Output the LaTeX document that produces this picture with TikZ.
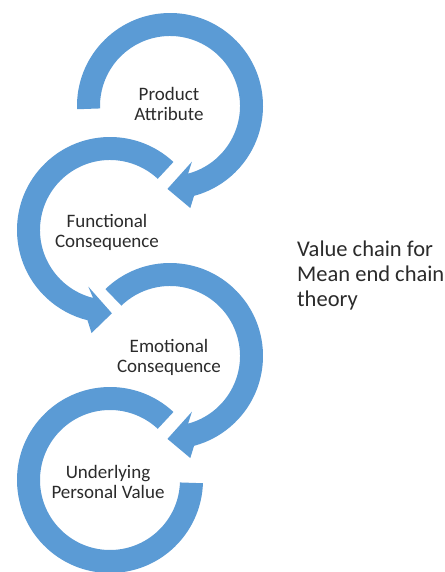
\documentclass[tikz,border=0pt]{standalone}
\usepackage{fontspec}
\setmainfont{Carlito}
\usetikzlibrary{calc}
\definecolor{ringblue}{HTML}{5B9BD5}
\definecolor{labelgray}{HTML}{2B2B2B}
\begin{document}
\begin{tikzpicture}[x=1pt,y=1pt,
  ring/.style={fill=ringblue,draw=none},
  stage/.style={align=center,inner sep=0pt,text=labelgray,font=\fontsize{19}{20}\selectfont},
  caption/.style={align=left,inner sep=0pt,text=labelgray,font=\fontsize{22.5}{25}\selectfont,anchor=west}]
\useasboundingbox (0,0) rectangle (444,-572);
\fill[white] (0,0) rectangle (444,-572);

% ring centres
\coordinate (c1) at (170,-106);
\coordinate (c2) at (110,-230);
\coordinate (c3) at (170,-356);
\coordinate (c4) at (110,-480);

% ring 1: clockwise, arrow at the bottom pointing left
\coordinate (p1) at ($(c1)+(-75:81.5pt)$);
\fill[ring] ($(c1)+(182:93pt)$) arc[start angle=182,end angle=-75,radius=93pt]
  -- ($(p1)+(-92:23.3pt)$) -- ($(p1)+(-170:24pt)$) -- ($(p1)+(88:23pt)$)
  -- ($(c1)+(-75:70pt)$) arc[start angle=-75,end angle=182,radius=70pt] -- cycle;

% ring 2: counter-clockwise, arrow at the bottom pointing right
\coordinate (p2) at ($(c2)+(256:81.5pt)$);
\fill[ring] ($(c2)+(47:93pt)$) arc[start angle=47,end angle=256,radius=93pt]
  -- ($(p2)+(273:24pt)$) -- ($(p2)+(349:22pt)$) -- ($(p2)+(95:22.5pt)$)
  -- ($(c2)+(256:70pt)$) arc[start angle=256,end angle=47,radius=70pt] -- cycle;

% ring 3: clockwise, arrow at the bottom pointing left
\coordinate (p3) at ($(c3)+(-75:81.5pt)$);
\fill[ring] ($(c3)+(134:93pt)$) arc[start angle=134,end angle=-75,radius=93pt]
  -- ($(p3)+(-92:23.3pt)$) -- ($(p3)+(-170:24pt)$) -- ($(p3)+(88:23pt)$)
  -- ($(c3)+(-75:70pt)$) arc[start angle=-75,end angle=134,radius=70pt] -- cycle;

% ring 4: counter-clockwise, open end on the right
\fill[ring] ($(c4)+(47:93pt)$) arc[start angle=47,end angle=358,radius=93pt]
  -- ($(c4)+(358:70pt)$) arc[start angle=358,end angle=47,radius=70pt] -- cycle;

% stage labels
\node[stage] (attr) at (169,-104) {Product\\Attribute};
\node[stage] (func) at (107,-232.5) {Functional\\Consequence};
\node[stage] (emo) at (169,-357.5) {Emotional\\Consequence};
\node[stage] (val) at (108,-481.5) {Underlying\\Personal Value};

% caption
\node[caption] (title) at (297,-275) {Value chain for\\Mean end chain\\theory};
\end{tikzpicture}
\end{document}
